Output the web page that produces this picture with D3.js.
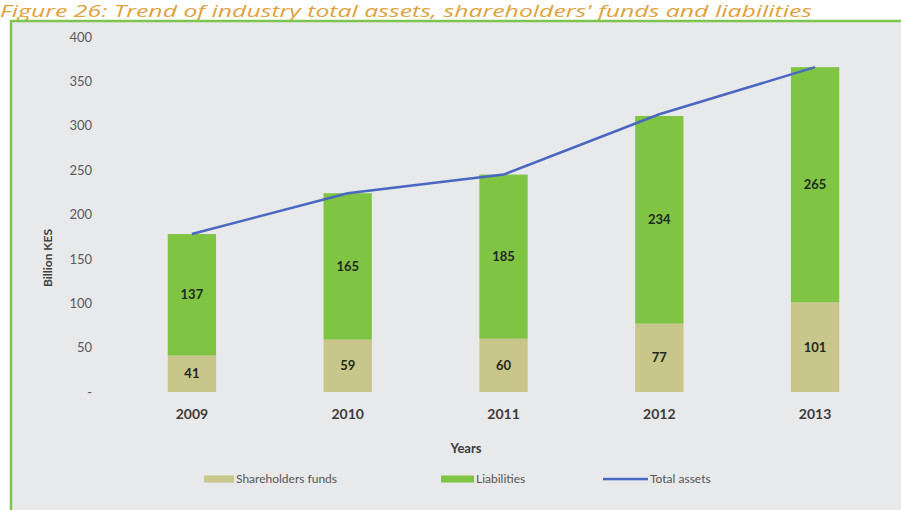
<!DOCTYPE html>
<html>
<head>
<meta charset="utf-8">
<script src="https://cdn.jsdelivr.net/npm/d3@7"></script>
<style>
  body { margin: 0; background: #fff; }
  svg { display: block; }
</style>
</head>
<body>
<div id="vis"></div>
<script>
var width = 901;
var height = 510;

// data
var years = ['2009', '2010', '2011', '2012', '2013'];
var shareholders = [41, 59, 60, 77, 101];
var liabilities = [137, 165, 185, 234, 265];
var totalAssets = [178, 224, 245, 313, 366];
var yTicks = [0, 50, 100, 150, 200, 250, 300, 350, 400];
var legendItems = ['Shareholders funds', 'Liabilities', 'Total assets'];

var shareColor = '#c9c68b';
var liabColor = '#80c444';
var lineColor = '#4a68c2';

var svg = d3.select('#vis')
  .append('svg')
  .attr('width', width)
  .attr('height', height);

// title sits right on top of the frame
svg.append('text')
  .attr('x', 0)
  .attr('y', 17)
  .attr('font-family', 'Open Sans, sans-serif')
  .attr('font-style', 'italic')
  .attr('font-size', 16)
  .attr('fill', '#e0a23c')
  .attr('textLength', 812)
  .attr('lengthAdjust', 'spacingAndGlyphs')
  .text("Figure 26: Trend of industry total assets, shareholders' funds and liabilities");

// framed panel
svg.append('rect')
  .attr('x', 11)
  .attr('y', 21)
  .attr('width', 900)
  .attr('height', 500)
  .attr('fill', '#e8e9ea')
  .attr('stroke', '#7ec54f')
  .attr('stroke-width', 2.5);

var x = d3.scaleBand()
  .domain(years)
  .range([114, 893])
  .paddingInner(0.69)
  .paddingOuter(0.345);

var y = d3.scaleLinear()
  .domain([0, 400])
  .range([392, 37]);

// y axis labels (no line, no ticks)
var yAxis = svg.append('g')
  .attr('transform', 'translate(92,0)')
  .call(d3.axisLeft(y).tickValues(yTicks).tickSize(0).tickPadding(0)
    .tickFormat(function (d) { return d === 0 ? '-' : d; }));
yAxis.select('.domain').remove();
yAxis.selectAll('text')
  .attr('font-family', 'Lato, sans-serif')
  .attr('font-size', 13)
  .attr('fill', '#5a5a5a');

svg.append('text')
  .attr('transform', 'translate(52,258) rotate(-90)')
  .attr('text-anchor', 'middle')
  .attr('font-family', 'Lato, sans-serif')
  .attr('font-weight', 'bold')
  .attr('font-size', 12)
  .attr('fill', '#404040')
  .text('Billion KES');

// stacked bars
var rows = years.map(function (yr, i) {
  return { year: yr, share: shareholders[i], liab: liabilities[i] };
});

var bars = svg.selectAll('.bar')
  .data(rows)
  .enter().append('g')
  .attr('class', 'bar');

bars.append('rect')
  .attr('x', function (d) { return x(d.year); })
  .attr('y', function (d) { return y(d.share); })
  .attr('width', x.bandwidth())
  .attr('height', function (d) { return y(0) - y(d.share); })
  .attr('fill', shareColor);

bars.append('rect')
  .attr('x', function (d) { return x(d.year); })
  .attr('y', function (d) { return y(d.share + d.liab); })
  .attr('width', x.bandwidth())
  .attr('height', function (d) { return y(d.share) - y(d.share + d.liab); })
  .attr('fill', liabColor);

function barLabel(sel, lo, hi, val) {
  sel.append('text')
    .attr('x', function (d) { return x(d.year) + x.bandwidth() / 2; })
    .attr('y', function (d) { return (y(lo(d)) + y(hi(d))) / 2; })
    .attr('dy', '0.35em')
    .attr('text-anchor', 'middle')
    .attr('font-family', 'Lato, sans-serif')
    .attr('font-weight', 'bold')
    .attr('font-size', 13)
    .attr('fill', '#1e2a1c')
    .text(val);
}
barLabel(bars, function () { return 0; }, function (d) { return d.share; }, function (d) { return d.share; });
barLabel(bars, function (d) { return d.share; }, function (d) { return d.share + d.liab; }, function (d) { return d.liab; });

// total assets line
var line = d3.line()
  .x(function (d, i) { return x(years[i]) + x.bandwidth() / 2; })
  .y(function (d) { return y(d); });

svg.append('path')
  .datum(totalAssets)
  .attr('d', line)
  .attr('fill', 'none')
  .attr('stroke', lineColor)
  .attr('stroke-width', 2.5);

// x axis labels
var xAxis = svg.append('g')
  .attr('transform', 'translate(0,409)')
  .call(d3.axisBottom(x).tickSize(0).tickPadding(0));
xAxis.select('.domain').remove();
xAxis.selectAll('text')
  .attr('font-family', 'Lato, sans-serif')
  .attr('font-weight', 'bold')
  .attr('font-size', 14)
  .attr('fill', '#3c3c3c');

svg.append('text')
  .attr('x', 466)
  .attr('y', 453)
  .attr('text-anchor', 'middle')
  .attr('font-family', 'Lato, sans-serif')
  .attr('font-weight', 'bold')
  .attr('font-size', 13)
  .attr('fill', '#3c3c3c')
  .text('Years');

// legend
var legendX = [204, 441, 603];
var legendW = [30, 33, 45];
var legendColors = [shareColor, liabColor, lineColor];

var legend = svg.selectAll('.legend')
  .data(legendItems)
  .enter().append('g')
  .attr('class', 'legend')
  .attr('transform', function (d, i) { return 'translate(' + legendX[i] + ',479)'; });

legend.append('rect')
  .attr('x', 0)
  .attr('y', function (d, i) { return i === 2 ? -1.2 : -3.5; })
  .attr('width', function (d, i) { return legendW[i]; })
  .attr('height', function (d, i) { return i === 2 ? 2.5 : 7; })
  .attr('fill', function (d, i) { return legendColors[i]; });

legend.append('text')
  .attr('x', function (d, i) { return legendW[i] + 2; })
  .attr('dy', '0.35em')
  .attr('font-family', 'Lato, sans-serif')
  .attr('font-size', 12)
  .attr('fill', '#555')
  .text(function (d) { return d; });
</script>
</body>
</html>
